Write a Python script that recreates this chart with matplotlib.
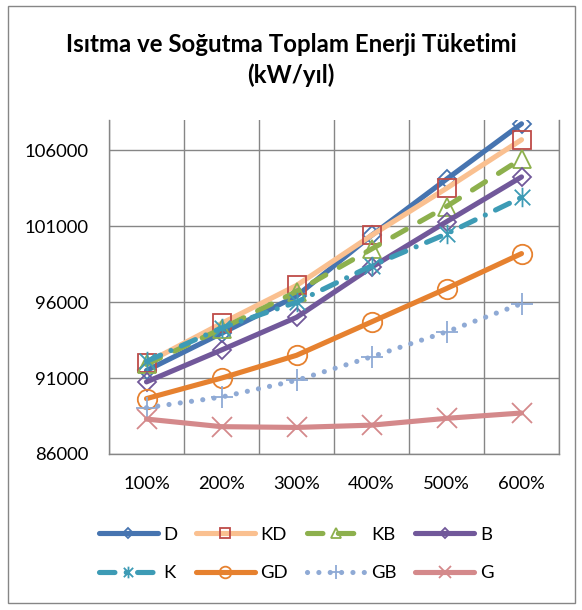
import matplotlib
matplotlib.use("Agg")
import matplotlib.pyplot as plt
from matplotlib.path import Path
from matplotlib.patches import Rectangle

plt.rcParams['font.family'] = ['Lato', 'DejaVu Sans']

# data
categories = ['100%', '200%', '300%', '400%', '500%', '600%']
D = [91500, 93950, 96400, 100400, 104100, 107750]
KD = [92000, 94600, 97100, 100400, 103500, 106700]
KB = [91900, 94250, 96700, 99500, 102300, 105450]
B = [90750, 92850, 95000, 98300, 101300, 104250]
K = [92100, 94300, 96000, 98400, 100500, 102900]
GD = [89650, 91000, 92500, 94700, 96900, 99200]
GB = [89050, 89750, 90850, 92400, 94050, 95900]
G = [88300, 87800, 87750, 87900, 88350, 88700]
y_ticks = [86000, 91000, 96000, 101000, 106000]

# asterisk marker: vertical bar plus an X
star = Path([(0, -1), (0, 1), (-0.8, -0.8), (0.8, 0.8), (-0.8, 0.8), (0.8, -0.8)],
            [Path.MOVETO, Path.LINETO, Path.MOVETO, Path.LINETO, Path.MOVETO, Path.LINETO])

fig = plt.figure(figsize=(5.82, 6.10), dpi=100)
ax = fig.add_axes([109 / 582, 1 - 454 / 610, 450 / 582, 334 / 610])

x = list(range(len(categories)))
series = [
    # label, values, line colour, marker, marker colour, size, dashes
    ('D', D, '#4674B0', 'D', '#4674B0', 9, None),
    ('KD', KD, '#FAC090', 's', '#BE4B48', 13, None),
    ('KB', KB, '#8DB04D', '^', '#8DB04D', 13, (3, 3.0)),
    ('B', B, '#71589A', 'D', '#71589A', 9, None),
    ('K', K, '#3D9BB5', star, '#3D9BB5', 14, (3, 2.2, 0.01, 2.2)),
    ('GD', GD, '#E6812F', 'o', '#E6812F', 14, None),
    ('GB', GB, '#8FAAD5', '+', '#8FAAD5', 16, (0.01, 2.2)),
    ('G', G, '#D4898B', 'x', '#D4898B', 14, None),
]

handles = {}
for label, vals, col, mk, mcol, ms, dash in series:
    line, = ax.plot(x, vals, color=col, lw=3.7, marker=mk, markersize=ms,
                    markerfacecolor='none', markeredgecolor=mcol, markeredgewidth=1.3,
                    solid_capstyle='round', dash_capstyle='round', label=label)
    if dash is not None:
        line.set_dashes(dash)
    handles[label] = line

ax.set_xlim(-0.5, 5.5)
ax.set_ylim(86000, 108000)
ax.set_xticks(x)
ax.set_xticklabels(categories)
ax.set_yticks(y_ticks)
ax.set_yticklabels([str(v) for v in y_ticks])
ax.set_xticks([i - 0.5 for i in range(7)], minor=True)
ax.tick_params(axis='both', which='both', length=0, labelsize=13.3)
ax.tick_params(axis='y', pad=15)
ax.tick_params(axis='x', pad=16)
ax.grid(True, axis='y', which='major', color='#868686', lw=1)
ax.grid(True, axis='x', which='minor', color='#868686', lw=1)
ax.grid(False, axis='x', which='major')
ax.spines['top'].set_visible(False)
for s in ['left', 'bottom', 'right']:
    ax.spines[s].set_color('#868686')
    ax.spines[s].set_linewidth(1)

fig.text(0.5, 1 - 60 / 610, 'Isıtma ve Soğutma Toplam Enerji Tüketimi\n(kW/yıl)',
         ha='center', va='center', fontsize=17.3, fontweight='bold', linespacing=1.35)

# legend fills column by column, so order it to read row-wise
order = ['D', 'K', 'KD', 'GD', 'KB', 'GB', 'B', 'G']
fig.legend([handles[k] for k in order], order, loc='center',
           bbox_to_anchor=(0.5 + 5 / 582, 1 - 554 / 610), ncol=4, frameon=False,
           fontsize=13.3, handlelength=3.2, handletextpad=0.3, columnspacing=1.0,
           labelspacing=1.2, markerscale=0.6)

fig.patches.append(Rectangle((7.5 / 582, 1 - 603 / 610), 567 / 582, 597 / 610,
                             transform=fig.transFigure, fill=False,
                             edgecolor='#868686', lw=1))

fig.savefig('out.png', dpi=100)
